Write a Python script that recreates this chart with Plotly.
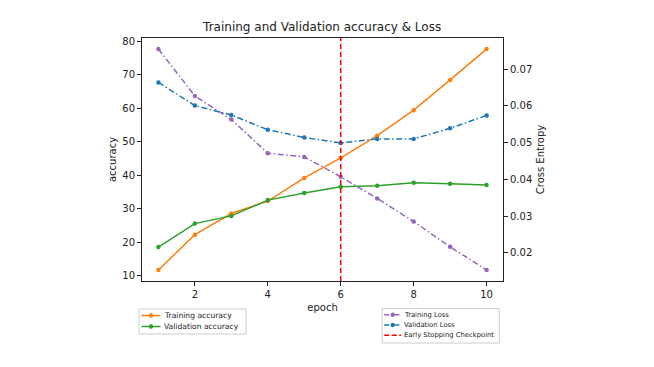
import plotly.graph_objects as go

epochs = [1, 2, 3, 4, 5, 6, 7, 8, 9, 10]
train_acc = [11.8, 22.3, 28.6, 32.3, 39.2, 45.2, 51.8, 59.4, 68.4, 77.6]
val_acc = [18.6, 25.6, 27.9, 32.6, 34.7, 36.6, 36.9, 37.8, 37.5, 37.1]
train_loss = [0.0755, 0.0627, 0.0563, 0.0471, 0.0461, 0.0407, 0.0348, 0.0285, 0.0216, 0.0153]
val_loss = [0.0664, 0.0601, 0.0575, 0.0535, 0.0514, 0.0499, 0.0510, 0.0510, 0.0539, 0.0574]
checkpoint_epoch = 6
acc_ticks = [10, 20, 30, 40, 50, 60, 70, 80]
loss_ticks = [0.02, 0.03, 0.04, 0.05, 0.06, 0.07]
epoch_ticks = [2, 4, 6, 8, 10]

ORANGE = "#ff7f0e"
GREEN = "#2ca02c"
PURPLE = "#9467bd"
BLUE = "#1f77b4"
FONT = "DejaVu Sans"
DASHDOT = "6px,2.5px,1.5px,2.5px"
DASH = "5px,3px"

# The page body has an 8px margin; the figure is sized so the plot lands where the reference has it.
OFF = 8
W, H = 654 - OFF, 367 - OFF
PL, PR, PT, PB = 142, 502.7, 38, 281          # plot box in page pixels
L, T = PL - OFF, PT - OFF
R, B = W - (PR - OFF), H - (PB - OFF)
PW, PH = PR - PL, PB - PT


def px(x):
    return (x - PL) / PW


def py(y):
    return (PB - y) / PH


fig = go.Figure()
fig.add_trace(go.Scatter(x=epochs, y=train_acc, name="Training accuracy", mode="lines+markers",
                         line=dict(color=ORANGE, width=1.5), marker=dict(size=4.5, color=ORANGE)))
fig.add_trace(go.Scatter(x=epochs, y=val_acc, name="Validation accuracy", mode="lines+markers",
                         line=dict(color=GREEN, width=1.5), marker=dict(size=4.5, color=GREEN)))
fig.add_trace(go.Scatter(x=epochs, y=train_loss, name="Training Loss", mode="lines+markers",
                         line=dict(color=PURPLE, width=1.5, dash=DASHDOT),
                         marker=dict(size=4.5, color=PURPLE), yaxis="y2"))
fig.add_trace(go.Scatter(x=epochs, y=val_loss, name="Validation Loss", mode="lines+markers",
                         line=dict(color=BLUE, width=1.5, dash=DASHDOT),
                         marker=dict(size=4.5, color=BLUE), yaxis="y2"))

fig.add_shape(type="line", xref="x", yref="paper", x0=checkpoint_epoch, x1=checkpoint_epoch,
              y0=0, y1=1, line=dict(color="red", width=1.5, dash=DASH))

# ---- legends (drawn as annotations + shapes, matplotlib style) ----
def legend_box(x0, x1, y0, y1):
    fig.add_shape(type="rect", xref="paper", yref="paper",
                  x0=px(x0), x1=px(x1), y0=py(y1), y1=py(y0),
                  line=dict(color="#cccccc", width=1), fillcolor="rgba(255,255,255,0.8)")


def legend_entry(hx0, hx1, y, text, color, dash="solid", marker=True, tx=None, size=7):
    fig.add_shape(type="line", xref="paper", yref="paper",
                  x0=px(hx0), x1=px(hx1), y0=py(y), y1=py(y),
                  line=dict(color=color, width=1.5, dash=dash))
    if marker:
        cx = px((hx0 + hx1) / 2)
        fig.add_shape(type="circle", xref="paper", yref="paper",
                      xsizemode="pixel", ysizemode="pixel",
                      xanchor=cx, yanchor=py(y), x0=-2.2, x1=2.2, y0=-2.2, y1=2.2,
                      line=dict(color=color, width=0), fillcolor=color)
    fig.add_annotation(xref="paper", yref="paper", x=px(tx), y=py(y), text=text,
                       showarrow=False, xanchor="left", yanchor="middle",
                       font=dict(family=FONT, size=size, color="#222"))


legend_box(139, 246, 309, 334)
legend_entry(141.5, 160.5, 315.5, "Training accuracy", ORANGE, tx=162, size=7.6)
legend_entry(141.5, 160.5, 326.5, "Validation accuracy", GREEN, tx=162, size=7.6)

legend_box(382, 499, 308.5, 343)
legend_entry(384, 401, 314.7, "Training Loss", PURPLE, dash="5px,2px,1.2px,2px", tx=402, size=6.8)
legend_entry(384, 401, 325.0, "Validation Loss", BLUE, dash="5px,2px,1.2px,2px", tx=402, size=6.8)
legend_entry(384, 401, 335.3, "Early Stopping Checkpoint", "red", dash="5px,2.5px",
             marker=False, tx=402, size=6.8)

axis_common = dict(showgrid=False, zeroline=False, showline=True, linecolor="#222",
                   linewidth=1, ticks="outside", ticklen=4, tickcolor="#222",
                   tickfont=dict(family=FONT, size=10, color="#222"))

fig.update_layout(
    width=W, height=H,
    margin=dict(l=L, r=R, t=T, b=B, pad=0),
    showlegend=False,
    paper_bgcolor="white", plot_bgcolor="white",
    font=dict(family=FONT, color="#222"),
    title=dict(text="Training and Validation accuracy & Loss", x=px(322), xref="paper",
               xanchor="center", y=1 - (27 - OFF) / H, yref="container", yanchor="middle",
               font=dict(family=FONT, size=12, color="#222")),
    xaxis=dict(range=[0.55, 10.45], tickvals=epoch_ticks, mirror=True, automargin=False,
               title=dict(text="epoch", font=dict(family=FONT, size=10), standoff=4), **axis_common),
    yaxis=dict(range=[8.5, 80.9], tickvals=acc_ticks, automargin=False,
               title=dict(text="accuracy", font=dict(family=FONT, size=10), standoff=3), **axis_common),
    yaxis2=dict(range=[0.0123, 0.0785], overlaying="y", side="right", automargin=False,
                tickvals=loss_ticks, tickformat=".2f",
                title=dict(text="Cross Entropy", font=dict(family=FONT, size=10), standoff=5),
                **axis_common),
)

fig.write_html("out.html")
